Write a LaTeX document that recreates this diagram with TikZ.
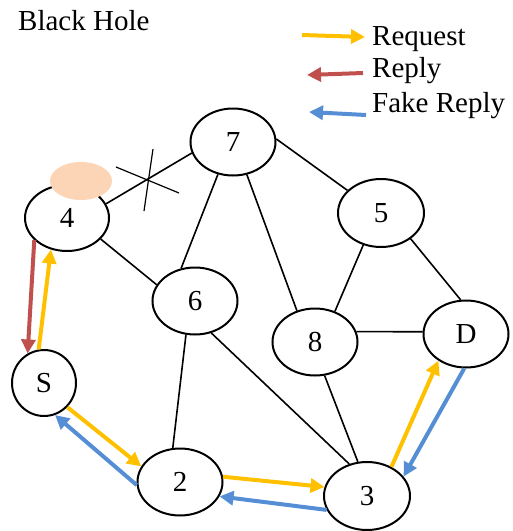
\documentclass[tikz,border=0pt]{standalone}
\usepackage{fontspec}
\setmainfont{Liberation Serif}
\usetikzlibrary{shapes.geometric,arrows.meta}
\definecolor{request}{RGB}{255, 192, 0}
\definecolor{reply}{RGB}{192, 80, 77}
\definecolor{fakereply}{RGB}{85, 142, 213}
\definecolor{peach}{RGB}{251, 213, 181}

\tikzset{
  vertex/.style={draw, ellipse, line width=2pt, minimum width=85pt, minimum height=67pt,
                 inner sep=0pt, font=\fontsize{29}{35}\selectfont},
  link/.style={line width=1.6pt},
  flow/.style={line width=4pt, -{Triangle[length=14pt, width=14pt]}},
  legendtext/.style={anchor=base west, inner sep=0pt, font=\fontsize{29}{35}\selectfont}
}

\begin{document}
\begin{tikzpicture}[x=1pt, y=-1pt]
            \useasboundingbox (0, 0) rectangle (513, 531);
            % legend
            \node[legendtext] (title)   at ( 18,  30) {Black Hole};
            \node[legendtext] (req)     at (372,  45) {Request};
            \node[legendtext] (rep)     at (372,  77) {Reply};
            \node[legendtext] (fake)    at (372, 112) {Fake Reply};
            \coordinate (reqtail)  at (302,  35);
            \coordinate (reqhead)  at (365,  37);
            \coordinate (reptail)  at (363,  73);
            \coordinate (rephead)  at (307,  75);
            \coordinate (faketail) at (366, 115);
            \coordinate (fakehead) at (309, 112);
            \draw[flow, request]   (reqtail)  -- (reqhead);
            \draw[flow, reply]     (reptail)  -- (rephead);
            \draw[flow, fakereply] (faketail) -- (fakehead);
            % nodes
            \node[vertex]                                          (n7) at (233, 142) {7};
            \node[vertex, minimum width=84pt, minimum height=66pt] (n4) at ( 67, 218) {4};
            \node[vertex, minimum width=86pt, minimum height=68pt] (n5) at (381, 213) {5};
            \node[vertex]                                          (n6) at (195, 301) {6};
            \node[vertex]                                          (n8) at (315, 342) {8};
            \node[vertex]                                          (nD) at (466, 334) {D};
            \node[vertex, minimum width=64pt, minimum height=66pt] (nS) at ( 44, 383) {S};
            \node[vertex]                                          (n2) at (180, 482) {2};
            \node[vertex, minimum width=86pt, minimum height=68pt] (n3) at (367, 496) {3};
            % black hole mark
            \fill[peach] (81, 181) ellipse (31 and 19);
            % links
            \draw[link] (n4.20)  -- (n7.195);
            \draw[link] (n4.328) -- (n6.157);
            \draw[link] (n7.245) -- (n6.113);
            \draw[link] (n7.293) -- (n8.120);
            \draw[link] (n7.4)   -- (n5.146);
            \draw[link] (n5.241) -- (n8.57);
            \draw[link] (n5.319) -- (nD.99);
            \draw[link] (n8.14)  -- (nD.177);
            \draw[link] (n8.286) -- (n3.105);
            \draw[link] (n6.297) -- (n3.119);
            \draw[link] (n6.255) -- (n2.102);
            % broken link
            \draw[line width=1.2pt] (116, 167) -- (179, 193);
            \draw[line width=1.2pt] (153, 149) -- (144, 211);
            % route
            \draw[flow, reply]     (n4.214) -- (nS.119);
            \draw[flow, request]   (nS.99)  -- (n4.243);
            \draw[flow, request]   (nS.314) -- (n2.158);
            \draw[flow, fakereply] (n2.184) -- (nS.289);
            \draw[flow, request]   (n2.7)   -- (n3.168);
            \draw[flow, fakereply] (n3.199) -- (n2.340);
            \draw[flow, request]   (n3.50)  -- (nD.224);
            \draw[flow, fakereply] (nD.267) -- (n3.28);
        \end{tikzpicture}
\end{document}
